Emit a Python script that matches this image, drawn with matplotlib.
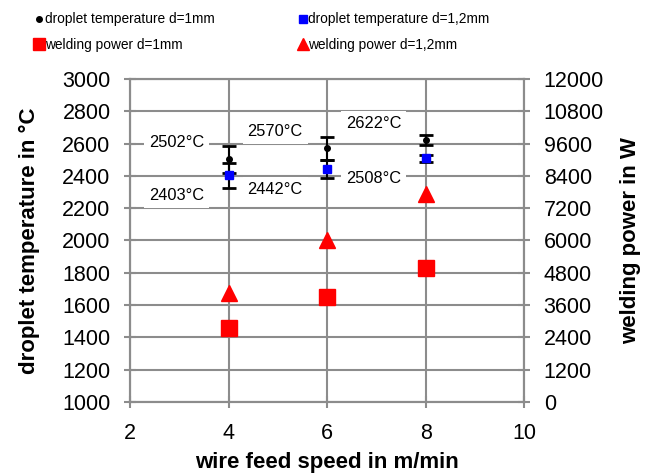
import numpy as np
import matplotlib
matplotlib.use('Agg')
import matplotlib.pyplot as plt
from matplotlib.lines import Line2D

plt.rcParams['font.family'] = ['Liberation Sans', 'DejaVu Sans']

# data
wire_speed = [4, 6, 8]
temp_1mm = [2502, 2570, 2622]
temp_1mm_err = [85, 72, 33]
temp_12mm = [2403, 2442, 2508]
temp_12mm_err = [79, 57, 24]
power_1mm = [2760, 3900, 4980]
power_12mm = [4040, 6000, 7740]

x_ticks = [2, 4, 6, 8, 10]
temp_ticks = np.arange(1000, 3001, 200)
power_ticks = np.arange(0, 12001, 1200)

grid_col = '#8c8c8c'

fig = plt.figure(figsize=(6.51, 4.75), dpi=100)
ax = fig.add_axes([0.1997, 0.1537, 0.6055, 0.68])
ax2 = ax.twinx()

ax.set_xlim(2, 10)
ax.set_ylim(1000, 3000)
ax2.set_ylim(0, 12000)
ax.set_xticks(x_ticks)
ax.set_yticks(temp_ticks)
ax2.set_yticks(power_ticks)

ax.grid(True, color=grid_col, lw=1.5)
ax.set_axisbelow(True)
for a in (ax, ax2):
    for s in a.spines.values():
        s.set_color(grid_col)
        s.set_linewidth(1.5)
ax.tick_params(axis='y', direction='inout', length=8, width=1.5, color=grid_col,
               labelsize=15.5, pad=10)
ax.tick_params(axis='x', direction='inout', length=8, width=1.5, color=grid_col,
               labelsize=15.5, pad=11)
ax2.tick_params(direction='inout', length=8, width=1.5, color=grid_col,
                labelsize=15.5, pad=10)

ax.errorbar(wire_speed, temp_1mm, yerr=temp_1mm_err, fmt='o', color='black',
            ms=4, ecolor='black', elinewidth=1.5, capsize=5, capthick=2, zorder=3)
ax.errorbar(wire_speed, temp_12mm, yerr=temp_12mm_err, fmt='s', mfc='#0000ff',
            mec='#0000ff', ms=6, ecolor='black', elinewidth=1.5, capsize=5,
            capthick=2, zorder=3)

for xv, t in zip(wire_speed, temp_1mm):
    ax.annotate(f'{t}°C', xy=(xv, t), xytext=(-52, 17), textcoords='offset pixels',
                ha='center', va='center', fontsize=11.8,
                bbox=dict(boxstyle='square,pad=0.3', fc='white', ec='none'))
for xv, t in zip(wire_speed, temp_12mm):
    ax.annotate(f'{t}°C', xy=(xv, t), xytext=(-52, -20), textcoords='offset pixels',
                ha='center', va='center', fontsize=11.8,
                bbox=dict(boxstyle='square,pad=0.3', fc='white', ec='none'))

ax2.plot(wire_speed, power_1mm, 's', color='#ff0000', ms=11, zorder=3)
ax2.plot(wire_speed, power_12mm, '^', color='#ff0000', ms=12, zorder=3)

ax.set_xlabel('wire feed speed in m/min', fontsize=16, fontweight='bold', labelpad=6)
ax.set_ylabel('droplet temperature in °C', fontsize=16, fontweight='bold', labelpad=16)
ax2.set_ylabel('welding power in W', fontsize=16, fontweight='bold', labelpad=12)

handles = [
    Line2D([], [], ls='none', marker='o', color='black', ms=4),
    Line2D([], [], ls='none', marker='s', color='#ff0000', ms=8),
    Line2D([], [], ls='none', marker='s', color='#0000ff', ms=6),
    Line2D([], [], ls='none', marker='^', color='#ff0000', ms=9),
]
labels = ['droplet temperature d=1mm', 'welding power d=1mm',
          'droplet temperature d=1,2mm', 'welding power d=1,2mm']
fig.legend(handles, labels, ncol=2, loc='upper left', bbox_to_anchor=(0.035, 1.0),
           frameon=False, fontsize=9.9, handlelength=0.6, handletextpad=0.1,
           columnspacing=6.1, labelspacing=0.85)

fig.savefig('out.png', dpi=100)
